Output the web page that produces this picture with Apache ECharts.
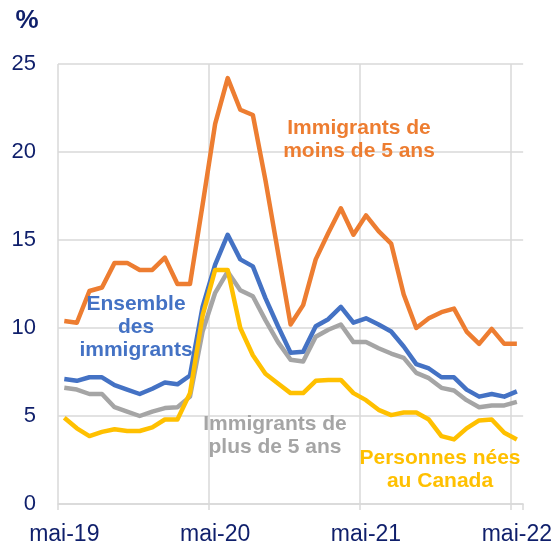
<!DOCTYPE html>
<html>
<head>
<meta charset="utf-8">
<script src="https://cdn.jsdelivr.net/npm/echarts@6/dist/echarts.min.js"></script>
<style>
    html, body { margin: 0; padding: 0; background: #fff; }
    #chart { width: 555px; height: 546px; }
</style>
</head>
<body>
<div id="chart"></div>
<script>
    // mois, de mai 2019 a mai 2022
    const months = [
        'mai-19', 'juin-19', 'juil-19', 'août-19', 'sept-19', 'oct-19', 'nov-19', 'déc-19',
        'janv-20', 'févr-20', 'mars-20', 'avr-20',
        'mai-20', 'juin-20', 'juil-20', 'août-20', 'sept-20', 'oct-20', 'nov-20', 'déc-20',
        'janv-21', 'févr-21', 'mars-21', 'avr-21',
        'mai-21', 'juin-21', 'juil-21', 'août-21', 'sept-21', 'oct-21', 'nov-21', 'déc-21',
        'janv-22', 'févr-22', 'mars-22', 'avr-22', 'mai-22'
    ];
    const yTicks = [0, 5, 10, 15, 20, 25];

    const moins5ans = [10.4, 10.3, 12.1, 12.3, 13.7, 13.7, 13.3, 13.3, 14.0, 12.5, 12.5, 17.0,
        21.6, 24.2, 22.4, 22.1, 18.4, 14.3, 10.2, 11.3, 13.9, 15.4, 16.8, 15.3,
        16.4, 15.5, 14.8, 11.9, 10.0, 10.55, 10.9, 11.1, 9.8, 9.1, 9.95, 9.1, 9.1];
    const ensemble = [7.1, 7.0, 7.2, 7.2, 6.75, 6.5, 6.25, 6.55, 6.9, 6.8, 7.3, 11.2,
        13.6, 15.3, 13.9, 13.5, 11.7, 10.1, 8.6, 8.65, 10.1, 10.5, 11.2, 10.3,
        10.55, 10.2, 9.8, 8.95, 7.95, 7.7, 7.2, 7.2, 6.5, 6.1, 6.25, 6.1, 6.4];
    const plus5ans = [6.6, 6.5, 6.25, 6.25, 5.5, 5.25, 5.0, 5.25, 5.45, 5.5, 6.1, 9.8,
        12.0, 13.2, 12.15, 11.8, 10.45, 9.2, 8.2, 8.1, 9.5, 9.9, 10.2, 9.2,
        9.2, 8.85, 8.55, 8.3, 7.45, 7.15, 6.6, 6.45, 5.9, 5.5, 5.6, 5.6, 5.8];
    const neesCanada = [4.9, 4.3, 3.86, 4.1, 4.25, 4.15, 4.15, 4.35, 4.8, 4.8, 6.3, 10.7,
        13.3, 13.3, 10.0, 8.45, 7.4, 6.85, 6.3, 6.3, 7.0, 7.05, 7.05, 6.3,
        5.9, 5.35, 5.05, 5.2, 5.2, 4.8, 3.86, 3.67, 4.3, 4.75, 4.8, 4.05, 3.67];

    const navy = '#0f1f6b';
    const gridGray = '#d9d9d9';
    const font = '"Liberation Sans", Arial, sans-serif';

    function line(name, data, color) {
        return {
            name: name,
            type: 'line',
            data: data,
            symbol: 'none',
            smooth: false,
            lineStyle: { color: color, width: 4.5, join: 'round' },
            itemStyle: { color: color },
            silent: true
        };
    }

    function label(text, x, y, color) {
        return {
            type: 'text',
            x: x,
            y: y,
            z: 100,
            style: {
                text: text,
                fill: color,
                font: 'bold 21px ' + font,
                textAlign: 'center',
                textVerticalAlign: 'middle',
                lineHeight: 23
            }
        };
    }

    const chart = echarts.init(document.getElementById('chart'), null, { renderer: 'canvas' });
    chart.setOption({
        animation: false,
        grid: { left: 58, right: 31, top: 64, bottom: 42, containLabel: false },
        xAxis: {
            type: 'category',
            data: months,
            boundaryGap: true,
            axisLine: { show: true, lineStyle: { color: gridGray, width: 1.5 } },
            axisTick: { show: true, interval: 11, length: 6, lineStyle: { color: gridGray, width: 1.5 } },
            axisLabel: { interval: 11, color: navy, fontSize: 23, fontFamily: font, margin: 19 },
            splitLine: { show: true, interval: 11, showMaxLine: false, lineStyle: { color: gridGray, width: 1.5 } }
        },
        yAxis: {
            type: 'value',
            min: yTicks[0],
            max: yTicks[yTicks.length - 1],
            interval: 5,
            axisLine: { show: false },
            axisTick: { show: false },
            axisLabel: { color: navy, fontSize: 22, fontFamily: font, margin: 22 },
            splitLine: { show: true, lineStyle: { color: gridGray, width: 1.5 } }
        },
        series: [
            line('Immigrants de moins de 5 ans', moins5ans, '#ed7d31'),
            line('Immigrants de plus de 5 ans', plus5ans, '#a5a5a5'),
            line('Ensemble des immigrants', ensemble, '#4472c4'),
            line('Personnes nées au Canada', neesCanada, '#ffc000')
        ],
        graphic: [
            {
                type: 'text', x: 27, y: 21, z: 100,
                style: { text: '%', fill: navy, font: 'bold 26px ' + font, textAlign: 'center', textVerticalAlign: 'middle' }
            },
            label('Immigrants de\nmoins de 5 ans', 359, 140, '#ed7d31'),
            label('Ensemble\ndes\nimmigrants', 136, 327, '#4472c4'),
            label('Immigrants de\nplus de 5 ans', 275, 436, '#a5a5a5'),
            label('Personnes nées\nau Canada', 440, 470, '#ffc000')
        ]
    });
</script>
</body>
</html>
